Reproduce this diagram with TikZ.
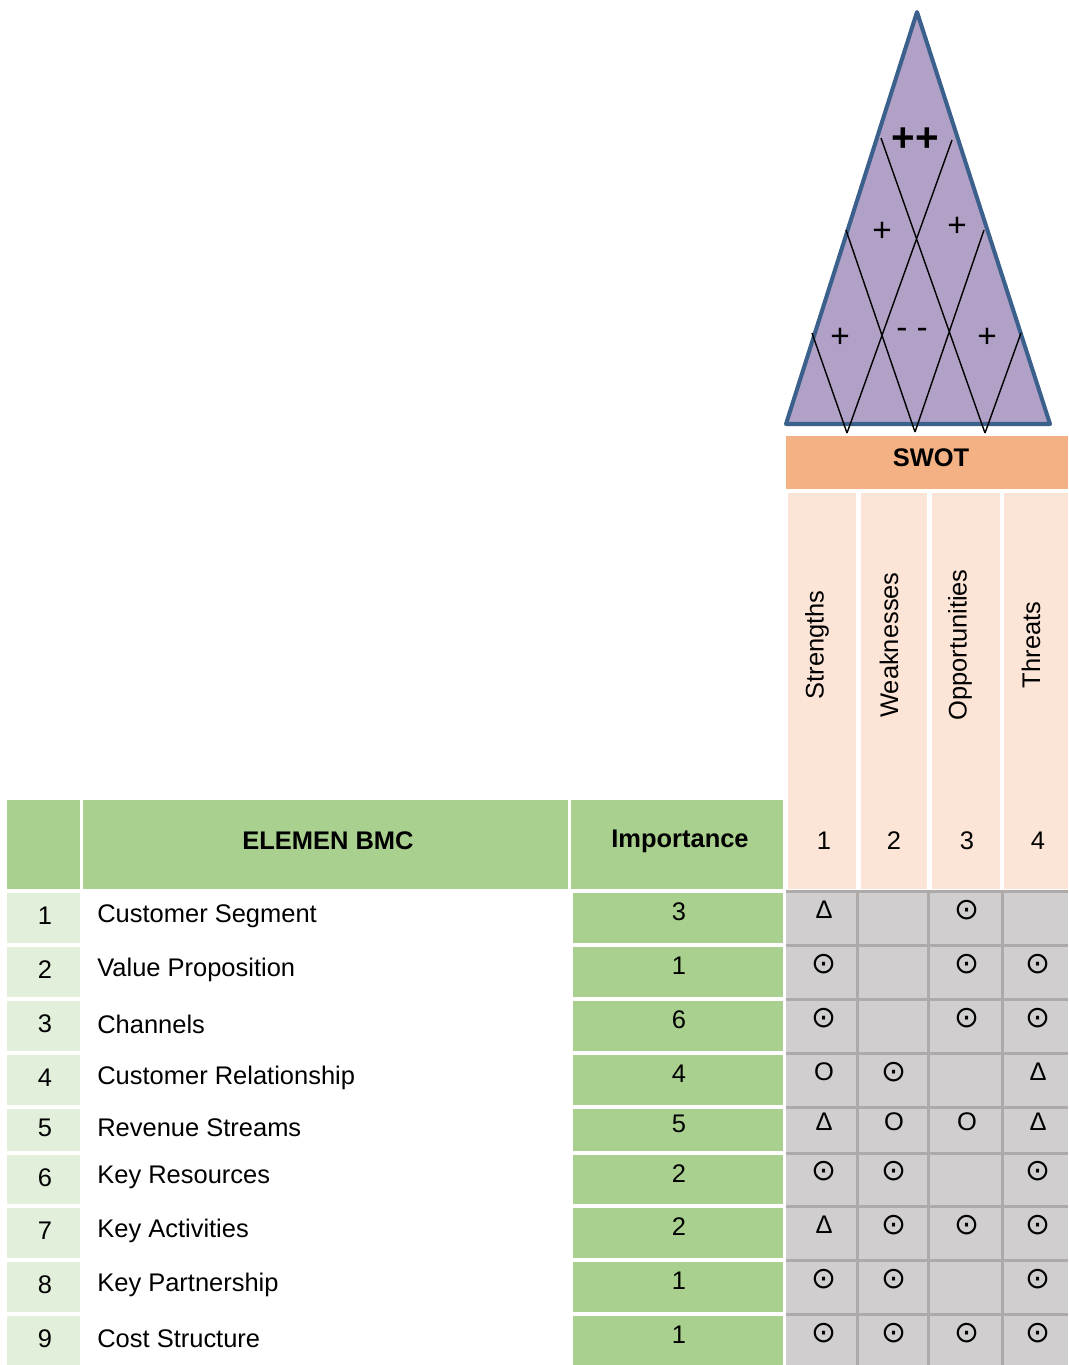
\documentclass[tikz,border=0pt]{standalone}
\usepackage{fontspec}
\setmainfont{Liberation Sans}
\newfontfamily\symfont{DejaVu Sans}
\usetikzlibrary{positioning}

\definecolor{roofpurple}{RGB}{177,161,199}
\definecolor{roofblue}{RGB}{60,96,140}
\definecolor{swotorange}{RGB}{244,177,131}
\definecolor{swotpeach}{RGB}{252,228,214}
\definecolor{bmcgreen}{RGB}{169,208,142}
\definecolor{bmclight}{RGB}{226,239,218}
\definecolor{cellgray}{RGB}{208,206,206}
\definecolor{linegray}{RGB}{174,170,170}

\newcommand{\swdot}{{\symfont\fontsize{17}{19}\selectfont ⊙}}
\newcommand{\swtri}{Δ}
\newcommand{\swring}{O}

\tikzset{
  txt/.style={font=\fontsize{14.5}{17}\selectfont, inner sep=0pt},
  hdr/.style={font=\fontsize{14.5}{17}\selectfont\bfseries, inner sep=0pt},
  sign/.style={font=\fontsize{19}{21}\selectfont, inner sep=0pt},
}

\begin{document}
\begin{tikzpicture}[x=0.02cm, y=-0.02cm]
        \useasboundingbox (0,0) rectangle (1068,1365);

        % roof
        \coordinate (apex) at (917, 12);
        \coordinate (bl) at (786, 424);
        \coordinate (br) at (1050, 424);
        \coordinate (la) at (881, 138);
        \coordinate (lb) at (846, 230);
        \coordinate (lc) at (812, 333);
        \coordinate (ra) at (952, 140);
        \coordinate (rb) at (984, 230);
        \coordinate (rc) at (1021, 333);
        \coordinate (b1) at (847, 433);
        \coordinate (b2) at (915, 432);
        \coordinate (b3) at (985, 433);

        \filldraw[fill=roofpurple, draw=roofblue, line width=2.3pt, line join=round] (apex) -- (bl) -- (br) -- cycle;
        \draw[line width=0.8pt] (la) -- (b3) (ra) -- (b1) (lb) -- (b2) (rb) -- (b2) (lc) -- (b1) (rc) -- (b3);

        \node[sign, font=\fontsize{23}{25}\selectfont\bfseries] (pp) at (915, 140) {++};
        \node[sign] (p1) at (882, 232) {+};
        \node[sign] (p2) at (957, 227) {+};
        \node[sign] (p3) at (840, 338) {+};
        \node[sign] (mm) at (912, 333) {- -};
        \node[sign] (p4) at (987, 338) {+};

        % SWOT header
        \fill[swotorange] (786, 436) rectangle (1068, 489);
        \node[hdr] (swot) at (931, 458) {SWOT};

        \fill[swotpeach] (788, 493) rectangle (856, 889);
        \fill[swotpeach] (861, 493) rectangle (927, 889);
        \fill[swotpeach] (932, 493) rectangle (1000, 889);
        \fill[swotpeach] (1004, 493) rectangle (1068, 889);
        \node[txt, rotate=90] (str) at (817, 645) {Strengths};
        \node[txt, rotate=90] (wea) at (889, 645) {Weaknesses};
        \node[txt, rotate=90] (opp) at (960, 645) {Opportunities};
        \node[txt, rotate=90] (thr) at (1031, 645) {Threats};
        \node[txt] (n1) at (824, 841) {1};
        \node[txt] (n2) at (894, 841) {2};
        \node[txt] (n3) at (967, 841) {3};
        \node[txt] (n4) at (1038, 841) {4};

        % BMC header
        \fill[bmcgreen] (7, 800) rectangle (80, 889);
        \fill[bmcgreen] (83, 800) rectangle (568, 889);
        \fill[bmcgreen] (571, 800) rectangle (783, 889);
        \node[hdr] (elmhdr) at (328, 841) {ELEMEN BMC};
        \node[hdr] (imphdr) at (680, 841) {Importance};

        % matrix
        \fill[cellgray] (786, 891) rectangle (1068, 1365);

        \foreach \i/\t/\b/\elm/\imp/\cs/\cw/\co/\ct in {
            1/891/945/Customer Segment/3/\swtri/{}/\swdot/{},
            2/945/999/Value Proposition/1/\swdot/{}/\swdot/\swdot,
            3/999/1053/Channels/6/\swdot/{}/\swdot/\swdot,
            4/1053/1107/Customer Relationship/4/\swring/\swdot/{}/\swtri,
            5/1107/1153/Revenue Streams/5/\swtri/\swring/\swring/\swtri,
            6/1153/1206/Key Resources/2/\swdot/\swdot/{}/\swdot,
            7/1206/1260/Key Activities/2/\swtri/\swdot/\swdot/\swdot,
            8/1260/1314/Key Partnership/1/\swdot/\swdot/{}/\swdot,
            9/1314/1368/Cost Structure/1/\swdot/\swdot/\swdot/\swdot} {
            \pgfmathsetmacro\y{(\t+\b)/2-2}
            \fill[bmclight] (7, \t+2) rectangle (80, \b-2);
            \fill[bmcgreen] (573, \t+2) rectangle (783, \b-2);
            \node[txt] (idx\i) at (45, \y) {\i};
            \node[txt, anchor=west] (elm\i) at (97, \y) {\elm};
            \node[txt] (imp\i) at (679, \y-4) {\imp};
            \node[txt] (s\i) at (824, \y-6) {\cs};
            \node[txt] (w\i) at (894, \y-6) {\cw};
            \node[txt] (o\i) at (967, \y-6) {\co};
            \node[txt] (t\i) at (1038, \y-6) {\ct};
            \draw[linegray, line width=1.7pt] (786, \t) -- (1068, \t);
        }

        \foreach \x in {857, 928, 1002}
            \draw[linegray, line width=1.7pt] (\x, 891) -- (\x, 1365);
        \draw[white, line width=1.2pt] (785, 891) -- (785, 1365);
    \end{tikzpicture}
\end{document}
